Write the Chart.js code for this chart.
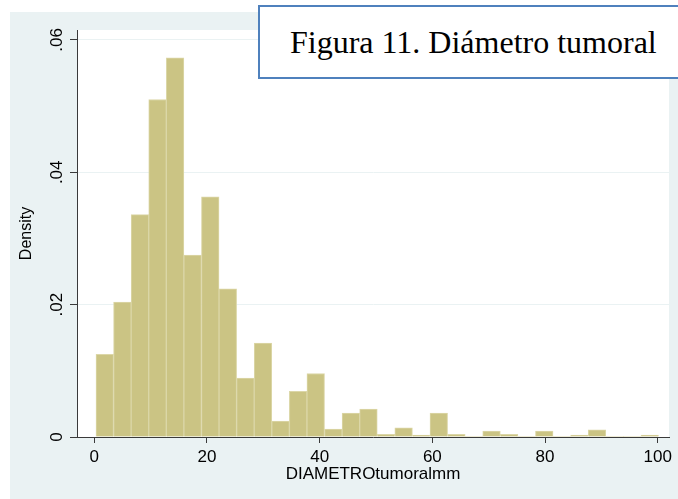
<!DOCTYPE html>
<html>
<head>
<meta charset="utf-8">
<title>Figura 11. Diámetro tumoral</title>
<script src="https://cdn.jsdelivr.net/npm/chart.js@4.4.1/dist/chart.umd.min.js"></script>
<style>
    html, body { margin: 0; padding: 0; background: #fff; overflow: hidden; }
    #wrap { position: relative; width: 678px; height: 499px; }
    #chart { display: block; }
    #caption {
        position: absolute;
        left: 258px;
        top: 5px;
        width: 440px;
        height: 74px;
        box-sizing: border-box;
        border: 2px solid #4f81bd;
        background: #fff;
        padding: 19px 0 0 30px;
        font: 32px "Liberation Serif", "Times New Roman", serif;
        line-height: 32px;
        color: #000;
        white-space: nowrap;
    }
</style>
</head>
<body>
<div id="wrap">
    <canvas id="chart" width="678" height="499"></canvas>
    <div id="caption">Figura 11. Diámetro tumoral</div>
</div>
<script>
// Histogram bins of tumour diameter (mm), centres
const binCenters = [
    1.86, 4.98, 8.10, 11.22, 14.34, 17.46, 20.58, 23.70,
    26.82, 29.94, 33.06, 36.18, 39.30, 42.42, 45.54, 48.66,
    51.78, 54.90, 58.02, 61.14, 64.26, 67.38, 70.50, 73.62,
    76.74, 79.86, 82.98, 86.10, 89.22, 92.34, 95.46, 98.58
];

// Density per bin
const densities = [
    0.0125, 0.0204, 0.0336, 0.0510, 0.0573, 0.0275, 0.0363, 0.0224,
    0.0089, 0.0142, 0.0024, 0.0069, 0.0096, 0.0012, 0.0036, 0.0042,
    0.0004, 0.0014, 0.0003, 0.0036, 0.0004, 0, 0.0009, 0.0004,
    0, 0.0009, 0, 0.0003, 0.0011, 0, 0, 0.0003
];

const xTicks = [0, 20, 40, 60, 80, 100];
const yTicks = [0, 0.02, 0.04, 0.06];
const yTickLabels = ['0', '.02', '.04', '.06'];

const BAR_FILL = '#cbc484';
const BAR_EDGE = '#dcd7a8';
const REGION_BG = '#eaf2f3';
const AXIS_COLOR = '#3a3a3a';

Chart.defaults.font.family = '"Liberation Sans", Arial, sans-serif';
Chart.defaults.color = '#000';

// Stata-like backgrounds: bluish graph region, white plot region
const regionBackground = {
    id: 'regionBackground',
    beforeDraw(chart) {
        const { ctx, chartArea } = chart;
        ctx.save();
        ctx.fillStyle = '#fff';
        ctx.fillRect(0, 0, chart.width, chart.height);
        ctx.fillStyle = REGION_BG;
        ctx.fillRect(10, 12, chart.width - 10, chart.height - 12);
        ctx.fillStyle = '#fff';
        ctx.fillRect(chartArea.left, chartArea.top,
            chartArea.right - chartArea.left, chartArea.bottom - chartArea.top);
        ctx.restore();
    }
};

const data = binCenters.map((x, i) => ({ x, y: densities[i] }));

new Chart(document.getElementById('chart'), {
    type: 'bar',
    data: {
        datasets: [{
            data,
            backgroundColor: BAR_FILL,
            borderColor: BAR_EDGE,
            borderWidth: ctx => (ctx.raw && ctx.raw.y > 0 ? 1 : 0),
            barPercentage: 1,
            categoryPercentage: 1
        }]
    },
    options: {
        responsive: false,
        animation: false,
        devicePixelRatio: 1,
        layout: { padding: { left: 10, right: 9, top: 30, bottom: 0 } },
        plugins: {
            legend: { display: false },
            tooltip: { enabled: false }
        },
        scales: {
            x: {
                type: 'linear',
                min: -3.07,
                max: 102.0,
                offset: false,
                afterBuildTicks(scale) {
                    scale.ticks = xTicks.map(v => ({ value: v }));
                },
                afterFit(scale) {
                    scale.height = 62;
                },
                grid: {
                    offset: false,
                    drawOnChartArea: false,
                    tickLength: 6,
                    tickColor: AXIS_COLOR
                },
                border: { color: AXIS_COLOR, width: 1 },
                ticks: {
                    padding: 4,
                    maxRotation: 0,
                    font: { size: 17 },
                    color: '#000'
                },
                title: {
                    display: true,
                    text: 'DIAMETROtumoralmm',
                    font: { size: 17 },
                    color: '#000',
                    padding: { top: 0, bottom: 14 }
                }
            },
            y: {
                min: 0,
                max: 0.0615,
                afterBuildTicks(scale) {
                    scale.ticks = yTicks.map(v => ({ value: v }));
                },
                afterFit(scale) {
                    scale.width = 67;
                },
                grid: {
                    color: REGION_BG,
                    tickLength: 7,
                    tickColor: AXIS_COLOR
                },
                border: { color: AXIS_COLOR, width: 1 },
                ticks: {
                    minRotation: 90,
                    maxRotation: 90,
                    crossAlign: 'center',
                    padding: 1,
                    font: { size: 17 },
                    color: '#000',
                    callback: (value, i) => yTickLabels[i]
                },
                title: {
                    display: true,
                    text: 'Density',
                    font: { size: 16 },
                    color: '#000',
                    padding: { top: 7, bottom: 0 }
                }
            }
        }
    },
    plugins: [regionBackground]
});
</script>
</body>
</html>
